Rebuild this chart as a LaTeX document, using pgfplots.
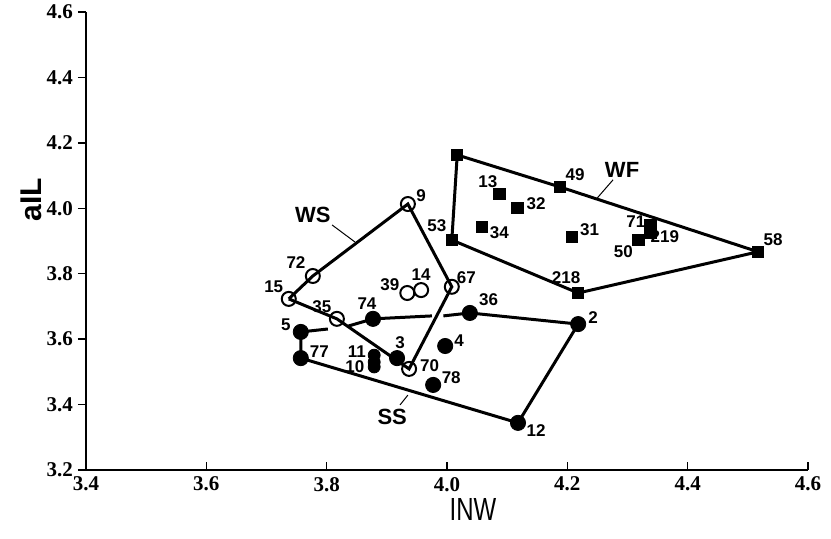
\documentclass[border=0pt]{standalone}
\usepackage{pgfplots}
\pgfplotsset{compat=1.18}
\usepackage{fontspec}
\setmainfont{Liberation Sans}
\newfontfamily\tickfont{Liberation Serif}

\begin{document}
\begin{tikzpicture}[
    lbl/.style={font=\bfseries\fontsize{8.5}{9}\selectfont, inner sep=0pt},
    grp/.style={font=\bfseries\fontsize{11}{11}\selectfont, inner sep=0pt},
]
\begin{axis}[
    scale only axis,
    width=361pt, height=229pt,
    xmin=3.4, xmax=4.6, ymin=3.2, ymax=4.6,
    axis lines=left,
    axis line style={-, line width=0.8pt},
    clip=false,
    xtick={3.4,3.6,3.8,4.0,4.2,4.4,4.6},
    ytick={3.2,3.4,3.6,3.8,4.0,4.2,4.4,4.6},
    tick align=inside,
    major tick length=4pt,
    major y tick style={xshift=-4pt},
    tick style={line width=0.75pt, black},
    /pgf/number format/assume math mode=true,
    /pgf/number format/.cd, fixed, precision=1, fixed zerofill, /pgfplots/.cd,
    ticklabel style={font=\tickfont\bfseries\fontsize{10.5}{10.5}\selectfont},
    yticklabel style={xshift=-3pt},
    xlabel={INW},
    xlabel style={font=\fontsize{16}{16}\selectfont, xscale=0.75, anchor=center,
        at={(axis description cs:0.536,-0.087)}},
    ylabel={aIL},
    ylabel style={font=\bfseries\fontsize{15}{15}\selectfont, anchor=center,
        at={(axis description cs:-0.076,0.59)}},
]
% WF outline
\addplot[black, line width=1.5pt, mark=none] coordinates {
    (4.017,4.163) (4.188,4.065) (4.517,3.867) (4.218,3.741) (4.008,3.903) (4.017,4.163)
};
% WS outline
\addplot[black, line width=1.5pt, mark=none] coordinates {
    (3.737,3.723) (3.777,3.793) (3.935,4.013) (4.008,3.760) (3.937,3.509) (3.817,3.662) (3.737,3.723)
};
% SS outline (broken where it crosses WS)
\addplot[black, line width=1.5pt, mark=none] coordinates {
    (3.802,3.631) (3.757,3.622) (3.757,3.542) (4.118,3.344) (4.218,3.646) (4.038,3.680) (3.994,3.671)
};
\addplot[black, line width=1.5pt, mark=none] coordinates {
    (3.836,3.640) (3.877,3.662) (3.975,3.671)
};
% leader lines
\addplot[black, line width=0.5pt, mark=none] coordinates {(4.276,4.087) (4.250,4.032)};
\addplot[black, line width=0.5pt, mark=none] coordinates {(3.809,3.949) (3.847,3.897)};
\addplot[black, line width=0.5pt, mark=none] coordinates {(3.922,3.399) (3.935,3.429)};

% WF points
\addplot[only marks, mark=square*, mark size=2.8pt, black] coordinates {
    (4.017,4.163) (4.188,4.065) (4.517,3.867) (4.218,3.741) (4.008,3.903)
    (4.087,4.044) (4.117,4.001) (4.058,3.943) (4.208,3.913)
    (4.338,3.949) (4.338,3.925) (4.318,3.903)
};
% SS points
\addplot[only marks, mark=*, mark size=3.8pt, black] coordinates {
    (3.757,3.622) (3.757,3.542) (4.118,3.344) (4.218,3.646) (4.038,3.680) (3.877,3.662)
    (3.917,3.542) (3.997,3.579) (3.977,3.460)
};
\addplot[only marks, mark=*, mark size=3.0pt, black] coordinates {
    (3.879,3.551) (3.879,3.530) (3.879,3.515)
};
% WS points
\addplot[only marks, mark=o, mark size=3.5pt, black, line width=1pt,
    mark options={fill=white}] coordinates {
    (3.737,3.723) (3.777,3.793) (3.935,4.013) (4.008,3.760) (3.937,3.509)
    (3.817,3.662) (3.934,3.741) (3.957,3.750)
};

% point labels
\node[lbl] at (axis cs:4.213,4.102) {49};
\node[lbl] at (axis cs:4.068,4.081) {13};
\node[lbl] at (axis cs:4.148,4.013) {32};
\node[lbl] at (axis cs:3.983,3.946) {53};
\node[lbl] at (axis cs:4.087,3.925) {34};
\node[lbl] at (axis cs:4.237,3.934) {31};
\node[lbl] at (axis cs:4.314,3.958) {71};
\node[lbl] at (axis cs:4.362,3.913) {219};
\node[lbl] at (axis cs:4.293,3.867) {50};
\node[lbl] at (axis cs:4.542,3.903) {58};
\node[lbl] at (axis cs:4.198,3.787) {218};
\node[lbl] at (axis cs:3.957,4.038) {9};
\node[lbl] at (axis cs:3.749,3.833) {72};
\node[lbl] at (axis cs:3.712,3.760) {15};
\node[lbl] at (axis cs:3.792,3.698) {35};
\node[lbl] at (axis cs:3.905,3.766) {39};
\node[lbl] at (axis cs:3.957,3.796) {14};
\node[lbl] at (axis cs:4.032,3.787) {67};
\node[lbl] at (axis cs:3.971,3.518) {70};
\node[lbl] at (axis cs:3.732,3.643) {5};
\node[lbl] at (axis cs:3.788,3.561) {77};
\node[lbl] at (axis cs:3.867,3.708) {74};
\node[lbl] at (axis cs:4.069,3.720) {36};
\node[lbl] at (axis cs:4.243,3.665) {2};
\node[lbl] at (axis cs:4.148,3.322) {12};
\node[lbl] at (axis cs:3.922,3.588) {3};
\node[lbl] at (axis cs:3.850,3.561) {11};
\node[lbl] at (axis cs:3.847,3.515) {10};
\node[lbl] at (axis cs:4.020,3.594) {4};
\node[lbl] at (axis cs:4.007,3.481) {78};
% group labels
\node[grp] at (axis cs:4.291,4.117) {WF};
\node[grp] at (axis cs:3.777,3.980) {WS};
\node[grp] at (axis cs:3.909,3.362) {SS};
\end{axis}
\pgfresetboundingbox
\useasboundingbox ([xshift=-43pt,yshift=-34.5pt]current axis.south west)
    rectangle ([xshift=11.5pt,yshift=6pt]current axis.north east);
\end{tikzpicture}
\end{document}
